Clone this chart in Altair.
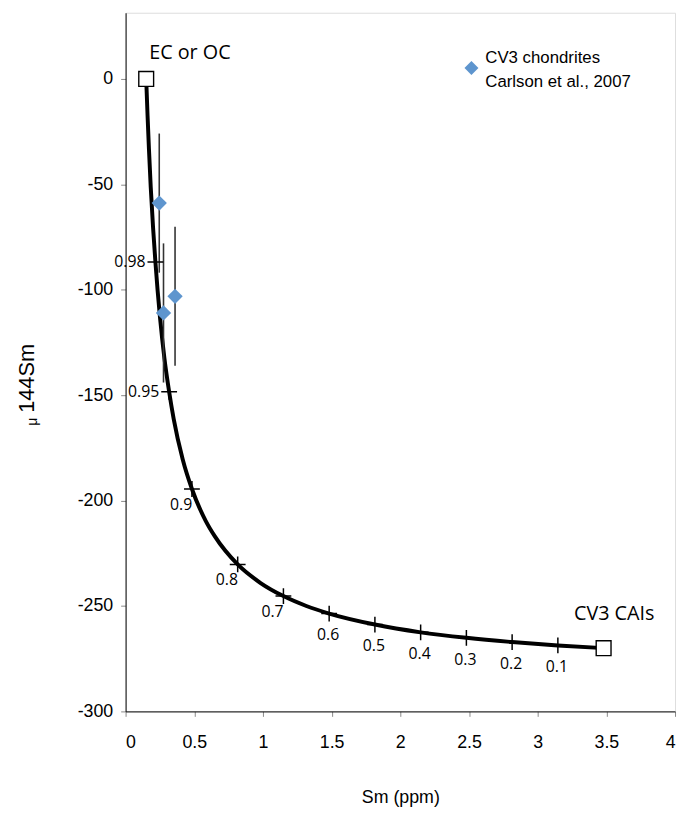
import altair as alt
import pandas as pd

# Mixing curve: Sm (ppm) vs mu144Sm
curve_x = [0.15, 0.160, 0.170, 0.183, 0.200, 0.217, 0.250, 0.283, 0.317, 0.350, 0.416, 0.483,
           0.583, 0.650, 0.816, 0.983, 1.149, 1.316, 1.482, 1.815, 2.148, 2.481, 2.814, 3.147, 3.48]
curve_y = [0.0, -17.6, -33.2, -51.3, -70.5, -86.8, -112.8, -132.7, -148.4, -161.2, -180.5, -194.5,
           -209.6, -217.0, -230.3, -239.1, -245.3, -250.0, -253.6, -258.8, -262.5, -265.1, -267.1, -268.7, -270.0]

# Mixing-proportion tick marks on the curve
mix_labels = ["0.98", "0.95", "0.9", "0.8", "0.7", "0.6", "0.5", "0.4", "0.3", "0.2", "0.1"]
mix_x = [0.217, 0.317, 0.483, 0.816, 1.149, 1.482, 1.815, 2.148, 2.481, 2.814, 3.147]
mix_y = [-86.8, -148.4, -194.5, -230.3, -245.3, -253.6, -258.8, -262.5, -265.1, -267.1, -268.7]
mix_group = ["left", "left", "diag", "diag", "diag", "below", "below", "below", "below", "below", "below"]

# End members
end_labels = ["EC or OC", "CV3 CAIs"]
end_x = [0.15, 3.48]
end_y = [0.0, -270.0]

# CV3 chondrites (Carlson et al., 2007)
cv3_x = [0.245, 0.276, 0.360]
cv3_y = [-58.9, -111.0, -103.1]
cv3_err = [33.0, 33.0, 33.0]

legend_lines = ["CV3 chondrites", "Carlson et al., 2007"]

x_ticks = [0, 0.5, 1, 1.5, 2, 2.5, 3, 3.5, 4]
y_ticks = [-300, -250, -200, -150, -100, -50, 0]

curve_df = pd.DataFrame({"x": curve_x, "y": curve_y})
mix_df = pd.DataFrame({"x": mix_x, "y": mix_y, "label": mix_labels, "group": mix_group})
end_df = pd.DataFrame({"x": end_x, "y": end_y, "label": end_labels})
cv3_df = pd.DataFrame({"x": cv3_x, "y": cv3_y,
                       "lo": [a - e for a, e in zip(cv3_y, cv3_err)],
                       "hi": [a + e for a, e in zip(cv3_y, cv3_err)]})

TICK_FONT = "Liberation Sans"
ANN_FONT = "Open Sans"

xscale = alt.Scale(domain=[0, 4], nice=False)
yscale = alt.Scale(domain=[-300, 31.4], nice=False)

x_axis = alt.Axis(values=x_ticks, title="Sm (ppm)", labelExpr="datum.value + ''",
                  grid=False, labelFont=TICK_FONT, labelFontSize=18, labelColor="#000",
                  labelPadding=18, tickColor="#888", tickSize=5, domainColor="#000",
                  titleFont=TICK_FONT, titleFontSize=18, titleFontWeight="normal",
                  titleColor="#000", titlePadding=37)
y_axis = alt.Axis(values=y_ticks, title=None, labelExpr="datum.value + ''",
                  grid=False, labelFont=TICK_FONT, labelFontSize=18, labelColor="#000",
                  labelPadding=8, tickColor="#888", tickSize=5, domainColor="#000")

X = alt.X("x:Q", scale=xscale, axis=x_axis)
Y = alt.Y("y:Q", scale=yscale, axis=y_axis)

curve = alt.Chart(curve_df).mark_line(color="#000", strokeWidth=4, interpolate="monotone").encode(
    x=X, y=Y)

errbars = alt.Chart(cv3_df).mark_rule(color="#333", strokeWidth=1.6).encode(
    x=X, y=alt.Y("lo:Q", scale=yscale, axis=y_axis), y2="hi:Q")

crosses = alt.Chart(mix_df).mark_point(
    shape="M-1,0L1,0M0,-1L0,1", size=256, filled=False, color="#000", strokeWidth=1.5, opacity=1
).encode(x=X, y=Y)

lbl_left = alt.Chart(mix_df).transform_filter("datum.group == 'left'").mark_text(
    font=ANN_FONT, fontSize=16, align="right", baseline="middle", dx=-10, dy=0, color="#000"
).encode(x=X, y=Y, text="label:N")
lbl_diag = alt.Chart(mix_df).transform_filter("datum.group == 'diag'").mark_text(
    font=ANN_FONT, fontSize=16, align="center", baseline="middle", dx=-11, dy=16, color="#000"
).encode(x=X, y=Y, text="label:N")
lbl_below = alt.Chart(mix_df).transform_filter("datum.group == 'below'").mark_text(
    font=ANN_FONT, fontSize=16, align="center", baseline="middle", dx=-1, dy=22, color="#000"
).encode(x=X, y=Y, text="label:N")

points = alt.Chart(cv3_df).mark_point(
    shape="diamond", size=240, filled=True, color="#5E95CE", opacity=1
).encode(x=X, y=Y)

ends = alt.Chart(end_df).mark_point(
    shape="square", size=225, filled=True, fill="#fff", stroke="#000", strokeWidth=1.4, opacity=1
).encode(x=X, y=Y)

ec_text = alt.Chart(end_df).transform_filter("datum.label == 'EC or OC'").mark_text(
    font=ANN_FONT, fontSize=20, align="left", baseline="middle", dx=3, dy=-26, color="#000"
).encode(x=X, y=Y, text="label:N")
cai_text = alt.Chart(end_df).transform_filter("datum.label == 'CV3 CAIs'").mark_text(
    font=ANN_FONT, fontSize=20, align="left", baseline="middle", dx=-30, dy=-34, color="#000"
).encode(x=X, y=Y, text="label:N")

# Legend (manual)
leg_sym = alt.Chart(pd.DataFrame({"s": ["CV3"]})).mark_point(
    shape="diamond", size=200, filled=True, color="#5E95CE", opacity=1
).encode(x=alt.value(350), y=alt.value(56))
leg_txt1 = alt.Chart(pd.DataFrame({"t": [legend_lines[0]]})).mark_text(
    font=TICK_FONT, fontSize=17, align="left", baseline="middle", color="#000"
).encode(x=alt.value(364), y=alt.value(46), text="t:N")
leg_txt2 = alt.Chart(pd.DataFrame({"t": [legend_lines[1]]})).mark_text(
    font=TICK_FONT, fontSize=17, align="left", baseline="middle", color="#000"
).encode(x=alt.value(364), y=alt.value(70), text="t:N")

# Y-axis title: subscript-like mu followed by 144Sm
ytitle_main = alt.Chart(pd.DataFrame({"t": ["144Sm"]})).mark_text(
    font=TICK_FONT, fontSize=22, angle=270, align="center", baseline="middle", color="#000"
).encode(x=alt.value(-100), y=alt.value(370), text="t:N")
ytitle_mu = alt.Chart(pd.DataFrame({"t": ["μ"]})).mark_text(
    font=TICK_FONT, fontSize=14, angle=270, align="center", baseline="middle", color="#000"
).encode(x=alt.value(-94), y=alt.value(414), text="t:N")

chart = alt.layer(
    curve, errbars, crosses, lbl_left, lbl_diag, lbl_below, points, ends,
    ec_text, cai_text, leg_sym, leg_txt1, leg_txt2, ytitle_main, ytitle_mu
).properties(
    width=556, height=707,
    autosize=alt.AutoSizeParams(type="none"),
    padding={"left": 119, "top": 0, "right": 3, "bottom": 98},
).configure_view(stroke="#000", strokeWidth=1).configure(background="#fff")

chart.save("out.html", embed_options={"renderer": "svg", "actions": False})
